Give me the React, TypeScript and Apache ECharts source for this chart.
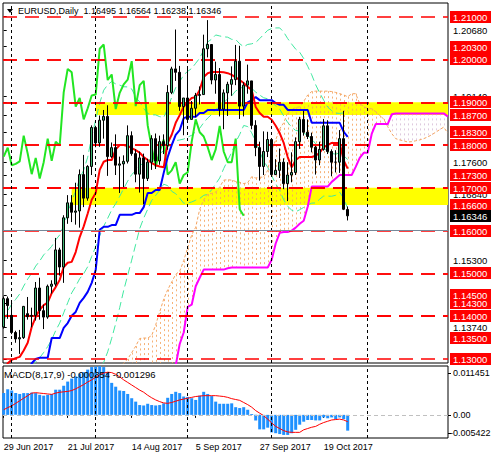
import { useEffect, useRef } from 'react';
import * as echarts from 'echarts';

const FONT = "'Liberation Sans', Arial, sans-serif";

// ---- price data (daily bars, index 0 = 29 Jun 2017) ----
const opens = [1.1375,1.1441,1.1402,1.1362,1.1347,1.1350,1.1406,1.1400,1.1402,1.1466,1.1413,1.1398,1.1470,1.1475,1.1555,1.1515,1.1630,1.1665,1.1643,1.1646,1.1731,1.1676,1.1750,1.1841,1.1805,1.1858,1.1867,1.1773,1.1794,1.1753,1.1756,1.1762,1.1822,1.1780,1.1732,1.1770,1.1722,1.1760,1.1815,1.1763,1.1808,1.1799,1.1923,1.1978,1.1970,1.1890,1.1910,1.1860,1.1886,1.1916,1.1918,1.2025,1.2035,1.1952,1.1965,1.1884,1.1922,1.1942,1.1953,1.1996,1.1891,1.1940,1.1950,1.1846,1.1794,1.1750,1.1785,1.1813,1.1731,1.1741,1.1760,1.1710,1.1730,1.1736,1.1808,1.1860,1.1830,1.1820,1.1795,1.1765,1.1790,1.1845,1.1785,1.1760,1.1760,1.1815,1.16495];
const highs = [1.1446,1.1446,1.1433,1.1366,1.1368,1.1424,1.1445,1.1420,1.1480,1.1490,1.1427,1.1474,1.1484,1.1583,1.1560,1.1636,1.1683,1.1683,1.1712,1.1743,1.1777,1.1753,1.1846,1.1845,1.1869,1.1882,1.1893,1.1806,1.1825,1.1773,1.1776,1.1846,1.1832,1.1790,1.1785,1.1780,1.1768,1.1823,1.1827,1.1822,1.1825,1.1940,1.1983,1.2070,1.1985,1.1910,1.1980,1.1903,1.1922,1.1937,1.2058,1.2092,1.2035,1.1995,1.1980,1.1930,1.1948,1.1984,1.2034,1.2032,1.1947,1.1988,1.1950,1.1858,1.1808,1.1832,1.1831,1.1816,1.1767,1.1792,1.1769,1.1760,1.1783,1.1818,1.1866,1.1880,1.1860,1.1829,1.1798,1.1808,1.1861,1.1858,1.1790,1.1788,1.1835,1.1880,1.16564];
const lows = [1.1371,1.1394,1.1358,1.1338,1.1312,1.1347,1.1392,1.1374,1.1390,1.1392,1.1370,1.1394,1.1453,1.1470,1.1495,1.1478,1.1616,1.1620,1.1614,1.1607,1.1655,1.1670,1.1730,1.1795,1.1796,1.1815,1.1728,1.1770,1.1730,1.1688,1.1702,1.1757,1.1775,1.1713,1.1689,1.1662,1.1716,1.1742,1.1744,1.1754,1.1779,1.1789,1.1919,1.1950,1.1880,1.1823,1.1862,1.1860,1.1865,1.1895,1.1918,1.2005,1.1942,1.1920,1.1867,1.1837,1.1868,1.1915,1.1940,1.1861,1.1867,1.1920,1.1837,1.1774,1.1717,1.1730,1.1772,1.1727,1.1730,1.1723,1.1697,1.1669,1.1713,1.1730,1.1791,1.1822,1.1814,1.1783,1.1731,1.1753,1.1787,1.1779,1.1727,1.1736,1.1735,1.1648,1.16238];
const closes = [1.1441,1.1425,1.1362,1.1347,1.1350,1.1423,1.1399,1.1402,1.1466,1.1413,1.1398,1.1470,1.1475,1.1555,1.1515,1.1630,1.1665,1.1643,1.1646,1.1731,1.1676,1.1750,1.1841,1.1805,1.1858,1.1867,1.1773,1.1794,1.1753,1.1756,1.1762,1.1822,1.1780,1.1732,1.1770,1.1722,1.1760,1.1815,1.1763,1.1808,1.1799,1.1923,1.1978,1.1970,1.1890,1.1910,1.1860,1.1886,1.1916,1.1918,1.2025,1.2035,1.1952,1.1965,1.1884,1.1922,1.1942,1.1953,1.1996,1.1891,1.1940,1.1950,1.1846,1.1794,1.1750,1.1785,1.1813,1.1731,1.1741,1.1760,1.1710,1.1730,1.1736,1.1808,1.1860,1.1830,1.1820,1.1795,1.1765,1.1790,1.1845,1.1785,1.1760,1.1760,1.1815,1.1650,1.16346];

// ---- Ichimoku ----
const tenkan = [1.1270,1.1290,1.1298,1.1302,1.1305,1.1320,1.1338,1.1375,1.1398,1.1415,1.1426,1.1432,1.1454,1.1468,1.1485,1.1515,1.1525,1.1527,1.1550,1.1585,1.1610,1.1640,1.1672,1.1688,1.1742,1.1761,1.1765,1.1765,1.1790,1.1800,1.1800,1.1798,1.1793,1.1788,1.1782,1.1772,1.1765,1.1758,1.1753,1.1750,1.1748,1.1805,1.1824,1.1852,1.1870,1.1890,1.1901,1.1910,1.1912,1.1929,1.1959,1.1968,1.1971,1.1971,1.1971,1.1970,1.1968,1.1964,1.1958,1.1952,1.1945,1.1936,1.1929,1.1889,1.1875,1.1866,1.1866,1.1859,1.1845,1.1828,1.1805,1.1772,1.1748,1.1765,1.1772,1.1772,1.1772,1.1772,1.1775,1.1782,1.1795,1.1800,1.1805,1.1805,1.1805,1.1764,1.1745];
const kijun = [1.1270,1.1270,1.1270,1.1270,1.1270,1.1270,1.1270,1.1290,1.1300,1.1303,1.1303,1.1303,1.1349,1.1349,1.1349,1.1373,1.1384,1.1401,1.1410,1.1431,1.1443,1.1457,1.1478,1.1508,1.1602,1.1609,1.1609,1.1613,1.1613,1.1637,1.1637,1.1637,1.1637,1.1641,1.1641,1.1655,1.1688,1.1688,1.1695,1.1695,1.1735,1.1772,1.1800,1.1824,1.1835,1.1863,1.1866,1.1866,1.1866,1.1875,1.1875,1.1882,1.1882,1.1882,1.1882,1.1882,1.1882,1.1882,1.1882,1.1882,1.1882,1.1900,1.1905,1.1912,1.1905,1.1905,1.1905,1.1905,1.1898,1.1894,1.1894,1.1882,1.1882,1.1882,1.1882,1.1882,1.1882,1.1852,1.1852,1.1852,1.1852,1.1852,1.1852,1.1852,1.1852,1.1831,1.1819];
const chikou = [1.1773,1.1794,1.1753,1.1756,1.1762,1.1822,1.1780,1.1732,1.1770,1.1722,1.1760,1.1815,1.1763,1.1808,1.1799,1.1923,1.1978,1.1970,1.1890,1.1910,1.1860,1.1886,1.1916,1.1918,1.2025,1.2035,1.1952,1.1965,1.1884,1.1922,1.1942,1.1953,1.1996,1.1891,1.1940,1.1950,1.1846,1.1794,1.1750,1.1785,1.1813,1.1731,1.1741,1.1760,1.1710,1.1730,1.1736,1.1808,1.1860,1.1830,1.1820,1.1795,1.1765,1.1790,1.1845,1.1785,1.1760,1.1760,1.1815,1.1650,1.16346];
const spanStart = 28;
const spanA = [1.1270,1.1282,1.1290,1.1300,1.1315,1.1330,1.1348,1.1349,1.1349,1.1355,1.1380,1.1410,1.1440,1.1462,1.1480,1.1498,1.1505,1.1530,1.1560,1.1590,1.1608,1.1650,1.1672,1.1685,1.1687,1.1690,1.1702,1.1718,1.1719,1.1718,1.1715,1.1713,1.1710,1.1712,1.1726,1.1723,1.1725,1.1725,1.1741,1.1788,1.1812,1.1838,1.1852,1.1876,1.1883,1.1888,1.1889,1.1902,1.1917,1.1925,1.1926,1.1926,1.1926,1.1926,1.1925,1.1923,1.1920,1.1917,1.1913,1.1920,1.1920,1.1897,1.1890,1.1885,1.1885,1.1878,1.1869,1.1861,1.1843,1.1827,1.1815,1.1812,1.1810,1.1807,1.1808,1.1810,1.1812,1.1815,1.1819,1.1824,1.1830,1.1836,1.1842,1.1828];
const spanB = [1.1150,1.1150,1.1150,1.1150,1.1150,1.1150,1.1150,1.1150,1.1200,1.1200,1.1200,1.1200,1.1200,1.1200,1.1200,1.1285,1.1335,1.1362,1.1422,1.1427,1.1470,1.1490,1.1509,1.1509,1.1509,1.1509,1.1509,1.1509,1.1512,1.1514,1.1514,1.1514,1.1514,1.1514,1.1514,1.1514,1.1514,1.1514,1.1514,1.1532,1.1570,1.1595,1.1597,1.1597,1.1600,1.1607,1.1616,1.1623,1.1656,1.1703,1.1703,1.1703,1.1703,1.1703,1.1714,1.1722,1.1730,1.1730,1.1730,1.1730,1.1749,1.1770,1.1782,1.1782,1.1826,1.1849,1.1849,1.1849,1.1849,1.1872,1.1874,1.1874,1.1874,1.1874,1.1874,1.1874,1.1874,1.1874,1.1874,1.1874,1.1874,1.1874,1.1874,1.1867];

// ---- Bollinger bands (20, 2) ----
const bbUpper = [1.13876,1.14127,1.14281,1.14395,1.14520,1.14705,1.14868,1.15006,1.15172,1.15290,1.15434,1.15530,1.15633,1.15785,1.15900,1.16119,1.16414,1.16705,1.16920,1.17217,1.17415,1.17717,1.18197,1.18586,1.18980,1.19282,1.19408,1.19485,1.19429,1.19401,1.19363,1.19359,1.19311,1.19120,1.19007,1.18853,1.18741,1.18707,1.18705,1.18664,1.18645,1.18852,1.19120,1.19343,1.19479,1.19640,1.19724,1.19790,1.19911,1.20032,1.20224,1.20410,1.20476,1.20573,1.20550,1.20530,1.20521,1.20470,1.20466,1.20368,1.20298,1.20352,1.20366,1.20398,1.20488,1.20585,1.20682,1.20724,1.20737,1.20738,1.20640,1.20488,1.20360,1.20241,1.20169,1.20023,1.19842,1.19643,1.19408,1.19217,1.19049,1.18887,1.18804,1.18747,1.18740,1.18752,1.18803];
const bbMiddle = [1.12296,1.12367,1.12421,1.12455,1.12500,1.12605,1.12708,1.12806,1.12932,1.13030,1.13154,1.13290,1.13453,1.13665,1.13840,1.14079,1.14314,1.14545,1.14700,1.14877,1.14995,1.15157,1.15397,1.15626,1.15880,1.16102,1.16288,1.16485,1.16629,1.16801,1.16983,1.17159,1.17311,1.17400,1.17527,1.17573,1.17621,1.17707,1.17765,1.17804,1.17865,1.17952,1.18020,1.18103,1.18119,1.18140,1.18184,1.18230,1.18311,1.18392,1.18524,1.18630,1.18716,1.18833,1.18890,1.18990,1.19081,1.19150,1.19266,1.19308,1.19378,1.19392,1.19326,1.19238,1.19168,1.19105,1.19082,1.19004,1.18917,1.18838,1.18680,1.18528,1.18420,1.18341,1.18329,1.18283,1.18222,1.18143,1.18028,1.17977,1.17929,1.17847,1.17804,1.17787,1.17820,1.17752,1.17663];
const bbLower = [1.10716,1.10607,1.10561,1.10515,1.10480,1.10505,1.10548,1.10606,1.10692,1.10770,1.10874,1.11050,1.11273,1.11545,1.11780,1.12039,1.12214,1.12385,1.12480,1.12537,1.12575,1.12597,1.12597,1.12666,1.12780,1.12922,1.13168,1.13485,1.13829,1.14201,1.14603,1.14959,1.15311,1.15680,1.16047,1.16293,1.16501,1.16707,1.16825,1.16944,1.17085,1.17052,1.16920,1.16863,1.16759,1.16640,1.16644,1.16670,1.16711,1.16752,1.16824,1.16850,1.16956,1.17093,1.17230,1.17450,1.17641,1.17830,1.18066,1.18248,1.18458,1.18432,1.18286,1.18078,1.17848,1.17625,1.17482,1.17284,1.17097,1.16938,1.16720,1.16568,1.16480,1.16441,1.16489,1.16543,1.16602,1.16643,1.16648,1.16737,1.16809,1.16807,1.16804,1.16827,1.16900,1.16752,1.16523];

// ---- MACD (8,17,9) ----
const macdHist = [0.0051,0.0060,0.0057,0.0051,0.0049,0.0051,0.0051,0.0052,0.0051,0.0047,0.0045,0.0047,0.0049,0.0059,0.0059,0.0068,0.0078,0.0085,0.0090,0.0097,0.0100,0.0106,0.0112,0.0113,0.0114,0.0112,0.0100,0.0075,0.0066,0.0057,0.0056,0.0049,0.0039,0.0031,0.0023,0.0022,0.0026,0.0023,0.0022,0.0023,0.0027,0.0040,0.0049,0.0054,0.0051,0.0043,0.0042,0.0039,0.0035,0.0045,0.0054,0.0049,0.0044,0.0031,0.0026,0.0026,0.0026,0.0027,0.0018,0.0016,0.0018,0.0012,0.0002,-0.0013,-0.0034,-0.0034,-0.0030,-0.0041,-0.0043,-0.0045,-0.0047,-0.0047,-0.0043,-0.0035,-0.0023,-0.0016,-0.0012,-0.0012,-0.0013,-0.0013,-0.0006,-0.0008,-0.0006,-0.0010,-0.0006,-0.0010,-0.0037];
const macdSignal = [0.0012,0.0017,0.0021,0.0027,0.0033,0.0039,0.0045,0.0051,0.0052,0.0051,0.0050,0.0049,0.0048,0.0051,0.0053,0.0054,0.0055,0.0057,0.0061,0.0066,0.0071,0.0077,0.0082,0.0088,0.0094,0.0098,0.0100,0.0099,0.0095,0.0089,0.0082,0.0076,0.0070,0.0064,0.0058,0.0053,0.0046,0.0040,0.0035,0.0031,0.0028,0.0027,0.0029,0.0032,0.0035,0.0037,0.0039,0.0041,0.0043,0.0044,0.0045,0.0045,0.0045,0.0045,0.0044,0.0043,0.0041,0.0038,0.0036,0.0034,0.0029,0.0024,0.0018,0.0010,0.0004,-0.0002,-0.0010,-0.0019,-0.0027,-0.0032,-0.0037,-0.0040,-0.0041,-0.0041,-0.0041,-0.0035,-0.0032,-0.0029,-0.0027,-0.0022,-0.0018,-0.0015,-0.0012,-0.0011,-0.0010,-0.0012,-0.0016];

// ---- levels, zones, labels ----
const levels = [1.21, 1.203, 1.2, 1.19, 1.187, 1.183, 1.18, 1.173, 1.17, 1.166, 1.16, 1.15, 1.145, 1.143, 1.14, 1.135, 1.13];
const zoneLow = [1.187, 1.166];
const zoneHigh = [1.19, 1.17];
const zoneStartIdx = [23, 17];
const priceTicks = [1.1374, 1.153, 1.1684, 1.176, 1.1914, 1.2068];
const currentPrice = 1.16346;
const monthLines = [2, 23, 46, 67, 91];
const dateLabelIdx = [0, 16, 32, 48, 64, 80];
const dateLabels = ['29 Jun 2017', '21 Jul 2017', '14 Aug 2017', '5 Sep 2017', '27 Sep 2017', '19 Oct 2017'];
const macdScale = ['0.011451', '0.00', '-0.005422'];

const X_MIN = -0.175, X_MAX = 111.075;
const Y_MIN = 1.12907, Y_MAX = 1.2132;
const M_MIN = -0.005422, M_MAX = 0.011451;

const BULL = '#3cb371';

export default function App() {
  const ref = useRef<HTMLDivElement>(null);
  useEffect(() => {
    document.body.style.margin = '0';
    const chart = echarts.init(ref.current!, null, { renderer: 'svg' });
    const idx = (arr: number[], off = 0) => arr.map((v, i) => [i + off, v]);
    const candleData = opens.map((o, i) => [i, o, closes[i], lows[i], highs[i]]);
    const hatchData = spanA.map((a, k) => [k + spanStart, a, spanB[k]]);

    const baseGraphic: any[] = [
      { type: 'polygon', shape: { points: [[7, 9], [13, 9], [10, 13]] }, style: { fill: '#000' }, z: 20 },
      {
        type: 'text', x: 18, y: 11, z: 20,
        style: { text: 'EURUSD,Daily  1.16495 1.16564 1.16238 1.16346', fill: '#000', font: `9px ${FONT}`, verticalAlign: 'middle' },
      },
      {
        type: 'text', x: 4, y: 374, z: 20,
        style: { text: 'MACD(8,17,9) -0.000354 -0.001296', fill: '#000', font: `9.5px ${FONT}`, verticalAlign: 'middle' },
      },
      { type: 'text', x: 453, y: 373, z: 20, style: { text: macdScale[0], fill: '#000', font: `9px ${FONT}`, verticalAlign: 'middle' } },
      { type: 'text', x: 453, y: 415, z: 20, style: { text: macdScale[1], fill: '#000', font: `9px ${FONT}`, verticalAlign: 'middle' } },
      { type: 'text', x: 450, y: 433, z: 20, style: { text: macdScale[2], fill: '#000', font: `9px ${FONT}`, verticalAlign: 'middle' } },
      { type: 'line', shape: { x1: 448, y1: 373.5, x2: 451, y2: 373.5 }, style: { stroke: '#000', lineWidth: 1 }, z: 20 },
      { type: 'line', shape: { x1: 448, y1: 415.5, x2: 451, y2: 415.5 }, style: { stroke: '#000', lineWidth: 1 }, z: 20 },
      { type: 'line', shape: { x1: 448, y1: 433.5, x2: 451, y2: 433.5 }, style: { stroke: '#000', lineWidth: 1 }, z: 20 },
    ];

    const option: any = {
      animation: false,
      textStyle: { fontFamily: FONT },
      grid: [
        { left: 3, top: 3, width: 445, height: 360, show: true, borderColor: '#000', borderWidth: 1 },
        { left: 3, top: 366, width: 445, height: 72, show: true, borderColor: '#000', borderWidth: 1 },
      ],
      xAxis: [
        { type: 'value', gridIndex: 0, min: X_MIN, max: X_MAX, show: false },
        {
          type: 'value', gridIndex: 1, min: X_MIN, max: X_MAX, position: 'bottom',
          axisLine: { show: false }, splitLine: { show: false },
          axisTick: { show: true, customValues: dateLabelIdx, length: 3, lineStyle: { color: '#000' } },
          axisLabel: {
            customValues: dateLabelIdx, align: 'left', margin: 4, fontSize: 9, color: '#000', fontFamily: FONT,
            formatter: (v: number) => dateLabels[dateLabelIdx.indexOf(Math.round(v))] ?? '',
          },
        },
      ],
      yAxis: [
        {
          type: 'value', gridIndex: 0, min: Y_MIN, max: Y_MAX, position: 'right',
          axisLine: { show: false }, splitLine: { show: false },
          axisTick: { show: true, customValues: [...priceTicks, ...levels], length: 3, lineStyle: { color: '#000' } },
          axisLabel: { customValues: priceTicks, margin: 5, fontSize: 9.5, color: '#000', fontFamily: FONT, formatter: (v: number) => v.toFixed(5) },
        },
        { type: 'value', gridIndex: 1, min: M_MIN, max: M_MAX, position: 'right', show: false },
      ],
      series: [
        {
          type: 'line', name: 'zones', data: idx(closes), symbol: 'none', silent: true,
          lineStyle: { width: 0, opacity: 0 }, z: 0,
          markArea: {
            silent: true,
            itemStyle: { color: '#ffff00' },
            data: zoneLow.map((lo, k) => [{ xAxis: zoneStartIdx[k], yAxis: lo }, { xAxis: X_MAX, yAxis: zoneHigh[k] }]),
          },
        },
        {
          type: 'custom', name: 'cloud', data: hatchData, clip: true, silent: true, z: 2,
          renderItem: (params: any, api: any) => {
            const x = api.value(0), a = api.value(1), b = api.value(2);
            const hi = Math.min(Math.max(a, b), Y_MAX), lo = Math.max(Math.min(a, b), Y_MIN);
            if (hi <= lo) return null;
            const p1 = api.coord([x, hi]);
            const p2 = api.coord([x, lo]);
            const px = Math.round(p1[0]) + 0.5;
            return {
              type: 'line',
              shape: { x1: px, y1: p1[1], x2: px, y2: p2[1] },
              style: { stroke: a >= b ? '#f4a460' : '#d8bfd8', lineWidth: 1, lineDash: [2, 3], opacity: 0.85 },
            };
          },
        },
        {
          type: 'line', name: 'levels', data: idx(closes), symbol: 'none', silent: true,
          lineStyle: { width: 0, opacity: 0 }, z: 1,
          markLine: {
            silent: true, symbol: ['none', 'none'], label: { show: false },
            data: [
              ...levels.map((v) => ({ yAxis: v, lineStyle: { color: '#ff0000', type: [14, 8], width: 1.5 } })),
              ...monthLines.map((m) => ({ xAxis: m, lineStyle: { color: '#000', type: [3, 3], width: 1 } })),
              { yAxis: currentPrice, lineStyle: { color: '#778899', type: 'solid', width: 1 } },
            ],
          },
        },
        { type: 'line', name: 'bbU', data: idx(bbUpper), symbol: 'none', silent: true, z: 3, lineStyle: { color: '#40e8a0', width: 1, type: [8, 4] } },
        { type: 'line', name: 'bbM', data: idx(bbMiddle), symbol: 'none', silent: true, z: 3, lineStyle: { color: '#40e8a0', width: 1, type: [8, 4] } },
        { type: 'line', name: 'bbL', data: idx(bbLower), symbol: 'none', silent: true, z: 3, lineStyle: { color: '#40e8a0', width: 1, type: [8, 4] } },
        { type: 'line', name: 'spanA', data: idx(spanA, spanStart), symbol: 'none', silent: true, z: 3, lineStyle: { color: '#f4a460', width: 1, type: [3, 2] } },
        { type: 'line', name: 'spanB', data: idx(spanB, spanStart), symbol: 'none', silent: true, z: 4, lineStyle: { color: '#ff00ff', width: 2 } },
        { type: 'line', name: 'chikou', data: idx(chikou), symbol: 'none', silent: true, z: 4, lineStyle: { color: '#22e622', width: 2 } },
        { type: 'line', name: 'kijun', data: idx(kijun), symbol: 'none', silent: true, z: 4, lineStyle: { color: '#0000ff', width: 2 } },
        { type: 'line', name: 'tenkan', data: idx(tenkan), symbol: 'none', silent: true, z: 4, lineStyle: { color: '#ff0000', width: 2 } },
        {
          type: 'candlestick', name: 'EURUSD', data: candleData, barWidth: 3, silent: true, z: 10,
          itemStyle: { color: BULL, color0: '#000000', borderColor: '#000000', borderColor0: '#000000', borderWidth: 1 },
        },
        // MACD panel
        {
          type: 'bar', name: 'macd', xAxisIndex: 1, yAxisIndex: 1, data: idx(macdHist), barWidth: 3, silent: true,
          itemStyle: { color: '#1e90ff' }, z: 3,
          markLine: {
            silent: true, symbol: ['none', 'none'], label: { show: false },
            data: [
              { yAxis: 0, lineStyle: { color: '#c0c0c0', type: [4, 3], width: 1 } },
              ...monthLines.map((m) => ({ xAxis: m, lineStyle: { color: '#000', type: [3, 3], width: 1 } })),
            ],
          },
        },
        {
          type: 'line', name: 'signal', xAxisIndex: 1, yAxisIndex: 1, data: idx(macdSignal), symbol: 'none', silent: true, z: 4,
          lineStyle: { color: '#ff0000', width: 1 },
        },
      ],
      graphic: baseGraphic,
    };
    chart.setOption(option);

    // price-level tags on the right scale, positioned through the y axis
    const tag = (v: number, bg: string) => {
      const y = chart.convertToPixel({ yAxisIndex: 0 }, v) as number;
      return {
        type: 'group', x: 450, y: Math.round(y), z: 30,
        children: [
          { type: 'rect', shape: { x: 0, y: -6, width: 41, height: 12 }, style: { fill: bg }, z: 30 },
          { type: 'text', x: 3, y: 0.5, z: 31, style: { text: v.toFixed(5), fill: '#ffffff', font: `9.5px ${FONT}`, verticalAlign: 'middle' } },
        ],
      };
    };
    const tags = [...levels.map((v) => tag(v, '#ff0000')), tag(currentPrice, '#000000')];
    chart.setOption({ graphic: [...baseGraphic, ...tags] });

    return () => chart.dispose();
  }, []);
  return <div ref={ref} style={{ width: 491, height: 460, background: '#fff' }} />;
}
